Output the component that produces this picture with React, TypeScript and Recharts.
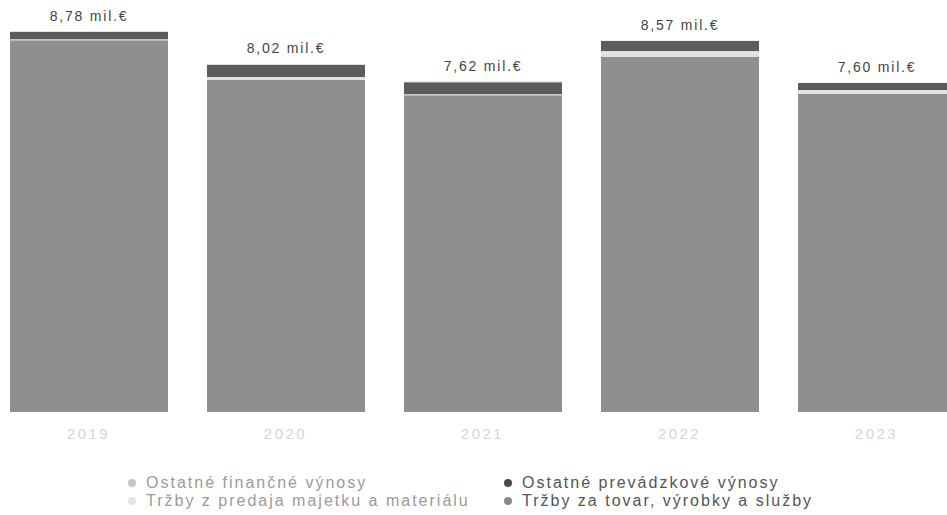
import React from "react";
import { BarChart, Bar, XAxis, YAxis, LabelList } from "recharts";

const years = ["2019", "2020", "2021", "2022", "2023"];
const totals = [8.78, 8.02, 7.62, 8.57, 7.6];
const trzbyTovar = [8.58, 7.66, 7.31, 8.19, 7.34];
const trzbyMajetok = [0.02, 0.07, 0.02, 0.14, 0.09];
const prevadzkove = [0.17, 0.28, 0.28, 0.23, 0.16];
const financne = [0.01, 0.01, 0.01, 0.01, 0.01];

const series = [
  { key: "trzbyTovar", name: "Tržby za tovar, výrobky a služby", color: "#8f8f8f" },
  { key: "trzbyMajetok", name: "Tržby z predaja majetku a materiálu", color: "#e2e2e2" },
  { key: "prevadzkove", name: "Ostatné prevádzkové výnosy", color: "#5c5c5c" },
  { key: "financne", name: "Ostatné finančné výnosy", color: "#c6c6c6" },
];

// legend order as printed, two columns
const legendItems = [
  { name: "Ostatné finančné výnosy", dot: "#c6c6c6", text: "#9a9a9a" },
  { name: "Ostatné prevádzkové výnosy", dot: "#4a4a4a", text: "#555" },
  { name: "Tržby z predaja majetku a materiálu", dot: "#e4e4e4", text: "#9a9a9a" },
  { name: "Tržby za tovar, výrobky a služby", dot: "#8a8a8a", text: "#555" },
];

const data = years.map((y, i) => ({
  name: y,
  total: totals[i],
  trzbyTovar: trzbyTovar[i],
  trzbyMajetok: trzbyMajetok[i],
  prevadzkove: prevadzkove[i],
  financne: financne[i],
}));

const fmt = (v: number) => v.toFixed(2).replace(".", ",") + " mil.€";

function TotalLabel(props: any) {
  const { x, y, width, index } = props;
  return (
    <text
      x={x + width / 2}
      y={y - 11}
      textAnchor="middle"
      fill="#444"
      fontSize={14}
      letterSpacing={1.8}
      fontFamily="Liberation Sans, Arial, sans-serif"
    >
      {fmt(totals[index])}
    </text>
  );
}

export default function App() {
  return (
    <div
      style={{
        position: "fixed",
        left: 0,
        top: 0,
        width: 947,
        height: 515,
        overflow: "hidden",
        background: "#fff",
        fontFamily: "Liberation Sans, Arial, sans-serif",
      }}
    >
      <div style={{ position: "absolute", left: -10, top: 0 }}>
        <BarChart
          width={985}
          height={515}
          data={data}
          margin={{ top: 22, right: 0, left: 0, bottom: 73 }}
          barSize={158}
        >
          <XAxis
            dataKey="name"
            axisLine={false}
            tickLine={false}
            tickMargin={10}
            height={30}
            tick={{ fill: "#d6d6d6", fontSize: 15, letterSpacing: 2.5 }}
          />
          <YAxis hide domain={[0, 9]} />
          {series.map((s, i) => (
            <Bar
              key={s.key}
              dataKey={s.key}
              name={s.name}
              stackId="a"
              fill={s.color}
              isAnimationActive={false}
            >
              {i === series.length - 1 && (
                <LabelList dataKey="total" content={<TotalLabel />} />
              )}
            </Bar>
          ))}
        </BarChart>
      </div>
      <div
        style={{
          position: "absolute",
          left: 128,
          top: 474,
          display: "grid",
          gridTemplateColumns: "376px 340px",
          rowGap: 0,
          fontSize: 16,
          letterSpacing: 2,
          lineHeight: "18px",
        }}
      >
        {legendItems.map((it) => (
          <div key={it.name} style={{ display: "flex", alignItems: "center", color: it.text }}>
            <span
              style={{
                width: 8,
                height: 8,
                borderRadius: "50%",
                background: it.dot,
                display: "inline-block",
                marginRight: 10,
              }}
            />
            <span style={{ whiteSpace: "nowrap" }}>{it.name}</span>
          </div>
        ))}
      </div>
    </div>
  );
}
